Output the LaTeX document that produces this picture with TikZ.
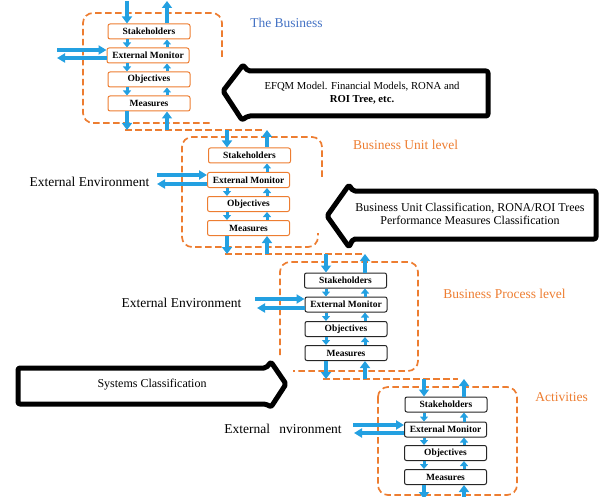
\documentclass[tikz,border=0pt]{standalone}
\usepackage{fontspec}
\setmainfont{Liberation Serif}
\usetikzlibrary{arrows.meta}
\definecolor{org}{RGB}{237,125,49}
\definecolor{skyb}{RGB}{35,160,225}
\definecolor{lblue}{RGB}{68,114,196}
\begin{document}
\begin{tikzpicture}[x=1pt,y=-1pt,
  dbox/.style={draw=org, line width=1.7pt, dash pattern=on 6.5pt off 3.5pt, rounded corners=10pt},
  dline/.style={draw=org, line width=1.7pt, dash pattern=on 6.5pt off 3.5pt},
  ibox/.style={draw=org, line width=1pt, rounded corners=2pt, minimum width=82pt, minimum height=15pt, inner sep=0pt, font=\fontsize{9.5}{10}\selectfont\bfseries, fill=white},
  kbox/.style={ibox, draw=black!85},
  varr/.style={draw=skyb, line width=3pt, -{Triangle[width=8pt,length=5pt]}},
  garr/.style={draw=skyb, line width=4pt, -{Triangle[width=10pt,length=7pt]}},
  harr/.style={draw=skyb, line width=3.3pt, -{Triangle[width=9pt,length=8pt]}},
  bigarr/.style={draw=black, line width=5pt, line join=round, rounded corners=2pt, fill=white},
  lvl/.style={font=\fontsize{13.5}{15}\selectfont, inner sep=0pt},
]
\useasboundingbox (0,0) rectangle (599,497);

% dashed level frames
\draw[dbox] (222,57) -- (222,13) -- (83,13) -- (83,123) -- (213,123);
\draw[dline] (125,130) -- (262,130);
\draw[dbox] (322,177) -- (322,137) -- (182,137) -- (182,247) -- (318,247) -- (318,233);
\draw[dline] (225,254) -- (362,254);
\draw[dbox] (280,355) -- (280,262) -- (418,262) -- (418,371) -- (293,371);
\draw[dline] (323,379) -- (458,379);
\draw[dbox] (378,387) rectangle (517,495);

% big block arrows
\draw[bigarr] (223,91) -- (243,65) -- (248,71) -- (488,71) -- (488,116) -- (248,116) -- (242,120) -- cycle;
\node[align=center, font=\fontsize{10.7}{12.5}\selectfont] (efqm) at (362,93) {EFQM Model. Financial Models, RONA and\\\textbf{ROI Tree, etc.}};
\draw[bigarr] (327,216) -- (349,185) -- (353,191) -- (596,191) -- (596,239) -- (353,239) -- (349,247) -- cycle;
\node[align=center, font=\fontsize{12}{13.5}\selectfont] (buc) at (470,214) {Business Unit Classification, RONA/ROI Trees\\Performance Measures Classification};
\draw[bigarr] (18,368) -- (266,368) -- (271,362) -- (286,384) -- (271,407) -- (266,404) -- (18,404) -- cycle;
\node[font=\fontsize{12}{13.5}\selectfont] (sysc) at (152,385) {Systems Classification};

% level labels
\node[lvl, text=lblue] (lab1) at (286.5,23) {The Business};
\node[lvl, text=org] (lab2) at (405.5,145) {Business Unit level};
\node[lvl, text=org] (lab3) at (504.5,294) {Business Process level};
\node[lvl, text=org] (lab4) at (561.5,397) {Activities};
\node[lvl] (ee2) at (89.5,182) {External Environment};
\node[lvl] (ee3) at (181.5,303) {External Environment};
\node[lvl] (ee4) at (283,429) {External\hspace{9.5pt}nvironment};

% inner boxes
\node[ibox] (l1s) at (149,31.5) {Stakeholders};
\node[ibox] (l1e) at (148,55.5) {External Monitor};
\node[ibox] (l1o) at (149,79.5) {Objectives};
\node[ibox] (l1m) at (149,103.5) {Measures};
\node[ibox] (l2s) at (249.5,155.5) {Stakeholders};
\node[ibox] (l2e) at (248.5,180) {External Monitor};
\node[ibox] (l2o) at (248.5,204) {Objectives};
\node[ibox] (l2m) at (248.5,228) {Measures};
\node[kbox] (l3s) at (345.5,280.5) {Stakeholders};
\node[kbox] (l3e) at (346,304.5) {External Monitor};
\node[kbox] (l3o) at (346,329) {Objectives};
\node[kbox] (l3m) at (346,353) {Measures};
\node[kbox] (l4s) at (446,404.5) {Stakeholders};
\node[kbox] (l4e) at (445.5,429.5) {External Monitor};
\node[kbox] (l4o) at (445.5,453) {Objectives};
\node[kbox] (l4m) at (445.5,477) {Measures};

% columns and gaps
\coordinate (d1) at (127,0); \coordinate (u1) at (167,0);
\coordinate (d2) at (227,0); \coordinate (u2) at (267,0);
\coordinate (d3) at (326,0); \coordinate (u3) at (365,0);
\coordinate (d4) at (424,0); \coordinate (u4) at (464,0);
\coordinate (g0) at (0,1);
\coordinate (g1) at (0,130);
\coordinate (g2) at (0,254);
\coordinate (g3) at (0,379);
\coordinate (g4) at (0,499);

% level 1 vertical arrows
\draw[garr] (d1 |- g0) -- (l1s.north -| d1);
\draw[garr] (l1s.north -| u1) -- (u1 |- g0);
\draw[varr] (l1s.south -| d1) -- (l1e.north -| d1);
\draw[varr] (l1e.north -| u1) -- (l1s.south -| u1);
\draw[varr] (l1e.south -| d1) -- (l1o.north -| d1);
\draw[varr] (l1o.north -| u1) -- (l1e.south -| u1);
\draw[varr] (l1o.south -| d1) -- (l1m.north -| d1);
\draw[varr] (l1m.north -| u1) -- (l1o.south -| u1);
\draw[garr] (l1m.south -| d1) -- (d1 |- g1);
\draw[garr] (u1 |- g1) -- (l1m.south -| u1);
% level 2
\draw[garr] (d2 |- g1) -- (l2s.north -| d2);
\draw[garr] (l2s.north -| u2) -- (u2 |- g1);
\draw[varr] (l2e.north -| u2) -- (l2s.south -| u2);
\draw[varr] (l2e.south -| d2) -- (l2o.north -| d2);
\draw[varr] (l2o.north -| u2) -- (l2e.south -| u2);
\draw[varr] (l2o.south -| d2) -- (l2m.north -| d2);
\draw[varr] (l2m.north -| u2) -- (l2o.south -| u2);
\draw[garr] (l2m.south -| d2) -- (d2 |- g2);
\draw[garr] (u2 |- g2) -- (l2m.south -| u2);
% level 3
\draw[garr] (d3 |- g2) -- (l3s.north -| d3);
\draw[garr] (l3s.north -| u3) -- (u3 |- g2);
\draw[varr] (l3s.south -| d3) -- (l3e.north -| d3);
\draw[varr] (l3e.north -| u3) -- (l3s.south -| u3);
\draw[varr] (l3e.south -| d3) -- (l3o.north -| d3);
\draw[varr] (l3o.north -| u3) -- (l3e.south -| u3);
\draw[varr] (l3o.south -| d3) -- (l3m.north -| d3);
\draw[varr] (l3m.north -| u3) -- (l3o.south -| u3);
\draw[garr] (l3m.south -| d3) -- (d3 |- g3);
\draw[garr] (u3 |- g3) -- (l3m.south -| u3);
% level 4
\draw[garr] (d4 |- g3) -- (l4s.north -| d4);
\draw[garr] (l4s.north -| u4) -- (u4 |- g3);
\draw[varr] (l4s.south -| d4) -- (l4e.north -| d4);
\draw[varr] (l4e.north -| u4) -- (l4s.south -| u4);
\draw[varr] (l4e.south -| d4) -- (l4o.north -| d4);
\draw[varr] (l4o.north -| u4) -- (l4e.south -| u4);
\draw[varr] (l4o.south -| d4) -- (l4m.north -| d4);
\draw[varr] (l4m.north -| u4) -- (l4o.south -| u4);
\draw[garr] (l4m.south -| d4) -- (d4 |- g4);
\draw[garr] (u4 |- g4) -- (l4m.south -| u4);

% horizontal exchange arrows
\coordinate (h1r) at (57,50); \coordinate (h1l) at (57,58);
\coordinate (h2r) at (157,175); \coordinate (h2l) at (157,184);
\coordinate (h3r) at (255,299); \coordinate (h3l) at (257,308);
\coordinate (h4r) at (353,425); \coordinate (h4l) at (354,433);
\draw[harr] (h1r) -- (h1r -| l1e.west);
\draw[harr] (h1l -| l1e.west) -- (h1l);
\draw[harr] (h2r) -- (h2r -| l2e.west);
\draw[harr] (h2l -| l2e.west) -- (h2l);
\draw[harr] (h3r) -- (h3r -| l3e.west);
\draw[harr] (h3l -| l3e.west) -- (h3l);
\draw[harr] (h4r) -- (h4r -| l4e.west);
\draw[harr] (h4l -| l4e.west) -- (h4l);
\end{tikzpicture}
\end{document}
